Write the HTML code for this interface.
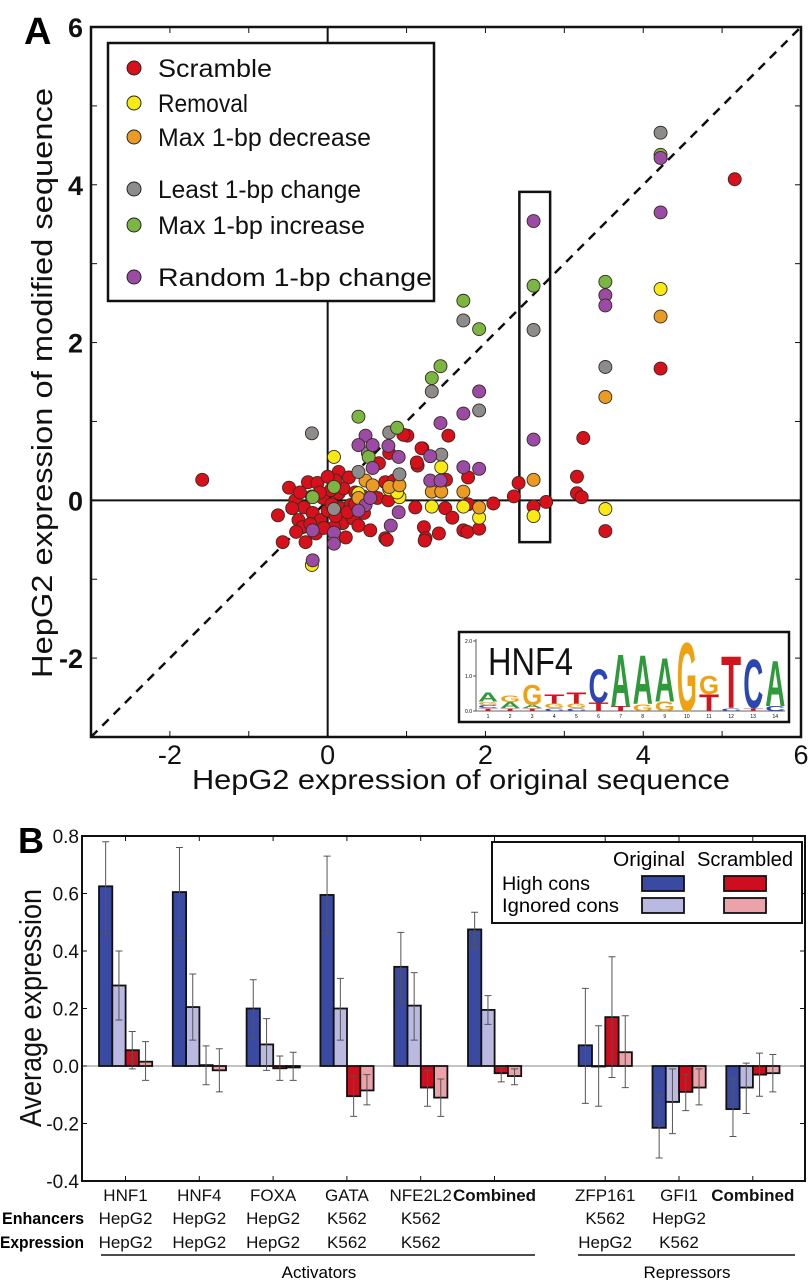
<!DOCTYPE html>
<html><head><meta charset="utf-8">
<style>
html,body{margin:0;padding:0;background:#fff;}
svg{display:block;font-family:"Liberation Sans",sans-serif;}
</style></head>
<body>
<svg id="fig" width="810" height="1280" viewBox="0 0 810 1280" xmlns="http://www.w3.org/2000/svg">
<g id="panelA"></g>
<g id="panelB"></g>
</svg>
<script>
// ---------------- Panel A data ----------------
const redPts = [[-0.49,0.16],[-0.63,-0.19],[-0.57,-0.53],[-0.41,0.0],[-0.37,-0.25],[-0.25,0.23],[-0.30,-0.09],[-0.32,-0.34],[-0.28,-0.53],[-0.13,0.22],[-0.06,0.03],[-0.19,-0.16],[-0.15,-0.42],[-0.09,-0.25],[0.0,-0.13],[0.14,0.36],[0.14,0.09],[0.16,-0.10],[0.19,-0.29],[0.27,0.29],[0.29,-0.06],[0.32,-0.23],[0.39,-0.32],[0.46,-0.16],[0.54,-0.38],[0.63,0.03],[0.65,0.47],[0.73,0.23],[0.84,0.25],[0.77,0.0],[1.14,0.44],[1.20,0.66],[1.01,0.82],[1.53,0.82],[1.11,-0.09],[1.22,-0.34],[1.24,-0.48],[0.73,-0.48],[1.41,-0.42],[1.49,-0.10],[1.58,-0.22],[1.72,-0.38],[0.04,0.13],[0.08,-0.34],[0.23,-0.47],[-1.59,0.26],[3.24,0.79],[2.42,0.22],[3.16,0.30],[3.16,0.09],[3.22,0.04],[2.77,-0.02],[2.61,-0.08],[2.36,0.05],[3.52,-0.39],[2.10,-0.04],[1.77,-0.40],[1.92,-0.36],[1.23,-0.51],[0.75,-0.50],[0.96,0.83],[1.19,0.66],[0.78,0.60],[1.13,0.48],[1.50,0.26],[1.78,0.29],[1.78,-0.05],[5.16,4.07],[4.22,1.67],[-0.45,-0.10],[-0.10,0.10],[0.05,-0.05],[0.20,0.15],[-0.20,0.05],[0.10,0.25],[0.35,0.10],[-0.35,0.10],[0.25,-0.15],[-0.05,-0.35],[0.45,0.05],[-0.22,-0.30],[0.00,0.30],[0.10,-0.20],[-0.40,-0.40],[0.35,-0.05]];
const yellowPts = [[4.22,2.68],[3.52,-0.11],[2.61,-0.20],[0.08,0.55],[0.39,0.09],[0.91,0.04],[1.44,0.42],[1.32,-0.08],[1.72,-0.08],[1.92,-0.22],[0.78,0.14],[0.88,0.10],[-0.20,-0.82]];
const orangePts = [[4.22,2.33],[3.52,1.31],[2.61,0.26],[0.48,0.25],[0.57,0.19],[0.39,0.03],[0.78,0.17],[0.91,0.19],[1.32,0.11],[1.44,0.11],[1.72,0.11],[1.92,-0.09]];
const grayPts = [[4.22,4.66],[2.61,2.16],[1.72,2.28],[3.52,1.69],[1.32,1.38],[1.92,1.14],[-0.20,0.85],[0.78,0.86],[1.44,0.58],[0.91,0.33],[0.39,0.36],[0.51,0.60],[0.08,-0.11]];
const greenPts = [[4.22,4.38],[2.61,2.72],[3.52,2.77],[1.72,2.53],[1.92,2.17],[1.43,1.70],[1.32,1.55],[0.39,1.06],[0.88,0.92],[0.52,0.55],[0.08,0.17],[-0.19,0.04]];
const purplePts = [[4.22,4.34],[2.61,3.54],[4.22,3.65],[3.52,2.60],[3.52,2.47],[1.92,1.38],[1.72,1.10],[1.43,0.98],[2.61,0.77],[0.48,0.82],[0.39,0.70],[0.57,0.70],[0.77,0.69],[0.90,0.55],[0.57,0.41],[1.30,0.56],[1.72,0.42],[1.92,0.40],[1.30,0.25],[1.43,0.25],[0.48,-0.06],[0.39,-0.13],[0.54,0.03],[0.90,-0.15],[0.80,-0.32],[-0.19,-0.38],[0.08,-0.41],[0.08,-0.55],[-0.19,-0.76]];
const xTicksA = [-2,0,2,4,6];
const yTicksA = [-2,0,2,4,6];
const legendA = ["Scramble","Removal","Max 1-bp decrease","Least 1-bp change","Max 1-bp increase","Random 1-bp change"];
const colorsA = ["#d7101c","#f8ea12","#e99b22","#8c8c8c","#7bb542","#9b4ba6"];

// ---------------- Panel B data ----------------
const catsB = ["HNF1","HNF4","FOXA","GATA","NFE2L2","Combined","ZFP161","GFI1","Combined"];
const enhB = ["HepG2","HepG2","HepG2","K562","K562","","K562","HepG2",""];
const exprB = ["HepG2","HepG2","HepG2","K562","K562","","HepG2","K562",""];
const groupB = ["Activators","Activators","Activators","Activators","Activators","Activators","Repressors","Repressors","Repressors"];
const origHigh = [0.625,0.605,0.20,0.595,0.345,0.475,0.072,-0.215,-0.15];
const origIgn  = [0.28,0.205,0.075,0.20,0.21,0.195,0.0,-0.125,-0.075];
const scrHigh  = [0.055,0.003,-0.008,-0.105,-0.075,-0.025,0.17,-0.09,-0.03];
const scrIgn   = [0.015,-0.015,-0.005,-0.085,-0.11,-0.035,0.048,-0.075,-0.025];
const errHiOH = [0.78,0.76,0.30,0.73,0.465,0.535,0.27,-0.10,-0.045];
const errLoOH = [0.46,0.445,0.095,0.46,0.22,0.41,-0.13,-0.32,-0.245];
const errHiOI = [0.40,0.32,0.165,0.305,0.325,0.245,0.14,-0.01,0.01];
const errLoOI = [0.16,0.09,-0.015,0.09,0.09,0.145,-0.14,-0.235,-0.165];
const errHiSH = [0.12,0.07,0.035,-0.035,-0.015,-0.005,0.38,-0.03,0.045];
const errLoSH = [-0.01,-0.065,-0.05,-0.175,-0.14,-0.055,-0.04,-0.155,-0.105];
const errHiSI = [0.085,0.06,0.048,-0.03,-0.045,-0.01,0.175,-0.01,0.04];
const errLoSI = [-0.05,-0.09,-0.05,-0.135,-0.175,-0.065,-0.075,-0.135,-0.09];
const yTicksB = [0.8,0.6,0.4,0.2,0.0,-0.2,-0.4];
const seriesNamesB = ["original-high-cons","original-ignored-cons","scrambled-high-cons","scrambled-ignored-cons"];
const colorsB = ["#3a4aa2","#b9b9e2","#cc0e1e","#eba2a8"];

// HNF4 logo stacks (letter, information in bits) bottom→top
const logoStacks = [
 [["T",0.08],["C",0.1],["G",0.1],["A",0.27]],
 [["T",0.08],["A",0.18],["G",0.2]],
 [["T",0.08],["A",0.1],["G",0.6]],
 [["C",0.08],["G",0.14],["T",0.27]],
 [["C",0.08],["G",0.14],["T",0.33]],
 [["T",0.25],["C",1.0]],
 [["T",0.15],["A",1.55]],
 [["G",0.2],["A",1.45]],
 [["G",0.28],["A",1.3]],
 [["G",2.05]],
 [["T",0.5],["G",0.55]],
 [["C",0.08],["T",1.55]],
 [["T",0.08],["C",1.45]],
 [["C",0.15],["A",1.35]]
];
const logoColors = {A:"#2e9a3a",C:"#2b45b3",G:"#f0a112",T:"#d2141c"};

const NS="http://www.w3.org/2000/svg";
function mk(tag, attrs, parent){const e=document.createElementNS(NS,tag);for(const k in attrs)e.setAttribute(k,attrs[k]);parent.appendChild(e);return e;}

// ===== Panel A =====
const A=document.getElementById('panelA');
const ax0=91, ax1=801, ay0=27, ay1=737;
const xA=v=>ax0+(v+3)/9*(ax1-ax0);
const yA=v=>ay1-(v+3)/9*(ay1-ay0);
let t=mk('text',{x:24,y:44,'font-size':38,'font-weight':'bold'},A);t.textContent="A";


let l=mk('line',{x1:xA(0),y1:ay0,x2:xA(0),y2:ay1,stroke:'#111','stroke-width':2},A);


l=mk('line',{x1:ax0,y1:yA(0),x2:ax1,y2:yA(0),stroke:'#111','stroke-width':2},A);


l=mk('line',{x1:xA(-3),y1:yA(-3),x2:xA(6),y2:yA(6),stroke:'#111','stroke-width':2.5,'stroke-dasharray':'9,7'},A);


for(let v=-2;v<=5;v++){
  mk('line',{x1:xA(v),y1:ay1,x2:xA(v),y2:ay1-6,stroke:'#111','stroke-width':1},A);
  mk('line',{x1:xA(v),y1:ay0,x2:xA(v),y2:ay0+6,stroke:'#111','stroke-width':1},A);
  mk('line',{x1:ax0,y1:yA(v),x2:ax0+6,y2:yA(v),stroke:'#111','stroke-width':1},A);
  mk('line',{x1:ax1,y1:yA(v),x2:ax1-6,y2:yA(v),stroke:'#111','stroke-width':1},A);
}
let r=mk('rect',{x:xA(2.43),y:yA(3.91),width:xA(2.82)-xA(2.43),height:yA(-0.53)-yA(3.91),fill:'none',stroke:'#111','stroke-width':2.5},A);


const sets=[redPts,yellowPts,orangePts,grayPts,greenPts,purplePts];
const setNames=["scramble","removal","max-decrease","least-change","max-increase","random-change"];
sets.forEach((pts,si)=>{
  const g=mk('g',{},A);
  
  
  pts.forEach(p=>{
    const c=mk('circle',{cx:xA(p[0]),cy:yA(p[1]),r:6.5,fill:colorsA[si],stroke:'#3a2a20','stroke-width':0.9},g);
    
    
  });
});
r=mk('rect',{x:ax0,y:ay0,width:ax1-ax0,height:ay1-ay0,fill:'none',stroke:'#111','stroke-width':2.5},A);


xTicksA.forEach(v=>{const e=mk('text',{x:xA(v),y:764,'font-size':27,'text-anchor':'middle',fill:'#111'},A);e.textContent=String(v);
 
 });
yTicksA.forEach(v=>{const e=mk('text',{x:83,y:yA(v)+10,'font-size':27,'font-weight':'bold','text-anchor':'end',fill:'#111'},A);e.textContent=String(v);
 
 });
t=mk('text',{x:461,y:789,'font-size':28,'text-anchor':'middle',textLength:538,lengthAdjust:'spacingAndGlyphs',fill:'#111'},A);
t.textContent="HepG2 expression of original sequence";


t=mk('text',{x:0,y:0,'font-size':29,'text-anchor':'middle',textLength:590,lengthAdjust:'spacingAndGlyphs',fill:'#111',transform:'translate(52,383) rotate(-90)'},A);
t.textContent="HepG2 expression of modified sequence";


const LG=mk('g',{},A);


mk('rect',{x:108,y:43,width:326,height:258,fill:'#fff',stroke:'#111','stroke-width':2.5},LG);
const legY=[68,103,137,189,225,277];
const legW=[114,90,213,203,207,274];
legendA.forEach((s,i)=>{
  const g=mk('g',{},LG);
  
  
  mk('circle',{cx:134,cy:legY[i],r:7,fill:colorsA[i],stroke:'#222','stroke-width':1},g);
  const e=mk('text',{x:158,y:legY[i]+9,'font-size':25,textLength:legW[i],lengthAdjust:'spacingAndGlyphs',fill:'#111'},g);
  e.textContent=s;
});
const IN=mk('g',{},A);


mk('rect',{x:459,y:632,width:330,height:90,fill:'#fff',stroke:'#111','stroke-width':2.5},IN);
mk('line',{x1:476,y1:639,x2:476,y2:711,stroke:'#333','stroke-width':0.8},IN);
mk('line',{x1:476,y1:711,x2:785,y2:711,stroke:'#333','stroke-width':0.8},IN);
[["2.0",641],["1.0",676],["0.0",711]].forEach(a=>{mk('line',{x1:473,y1:a[1],x2:476,y2:a[1],stroke:'#333','stroke-width':0.8},IN);const e=mk('text',{x:472,y:a[1]+2,'font-size':5,'text-anchor':'end'},IN);e.textContent=a[0];});
t=mk('text',{x:488,y:675,'font-size':39,textLength:85,lengthAdjust:'spacingAndGlyphs',fill:'#111'},IN);
t.textContent="HNF4";


const bitPx=34.5;
logoStacks.forEach((stack,i)=>{
  const cx=488+i*22.1;
  let base=711;
  stack.forEach(([ch,bits])=>{
    const h=bits*bitPx;
    const e=mk('text',{x:0,y:0,'font-size':100,'font-weight':'bold',textLength:100,lengthAdjust:'spacingAndGlyphs',fill:logoColors[ch],transform:`translate(${cx-10},${base}) scale(${20/100},${h/72})`},IN);
    e.textContent=ch;
    base-=h;
  });
  const n=mk('text',{x:cx,y:718,'font-size':5,'text-anchor':'middle'},IN);n.textContent=String(i+1);
});

// ===== Panel B =====
const B=document.getElementById('panelB');
const bx0=82, bx1=805, by0=836, by1=1181;
const yB=v=>by1-(v+0.4)/1.2*(by1-by0);
const slot=73.8, firstC=125.5;
const xC=i=>firstC+slot*(i+(groupB[i]==="Repressors"?0.5:0));
t=mk('text',{x:18,y:853,'font-size':36,'font-weight':'bold'},B);t.textContent="B";


const vals=[origHigh,origIgn,scrHigh,scrIgn];
const eh=[errHiOH,errHiOI,errHiSH,errHiSI], el=[errLoOH,errLoOI,errLoSH,errLoSI];
const bw=13.3;
catsB.forEach((c,i)=>{
  const g=mk('g',{},B);
  
  
  vals.forEach((arr,s)=>{
    const x=xC(i)-26.5+s*bw, v=arr[i];
    const y=Math.min(yB(v),yB(0)), h=Math.abs(yB(v)-yB(0));
    const b=mk('rect',{x:x,y:y,width:bw,height:Math.max(h,0.5),fill:colorsB[s],stroke:'#111','stroke-width':1.8},g);
    
    
  });
  vals.forEach((arr,s)=>{
    const xm=xC(i)-26.5+s*bw+bw/2;
    const e=mk('path',{d:`M${xm},${yB(eh[s][i])}V${yB(el[s][i])}M${xm-3.5},${yB(eh[s][i])}h7M${xm-3.5},${yB(el[s][i])}h7`,stroke:'#555','stroke-width':1,fill:'none'},g);
    
    
  });
  mk('line',{x1:xC(i),y1:by1,x2:xC(i),y2:by1-5,stroke:'#111'},B);
  mk('line',{x1:xC(i),y1:by0,x2:xC(i),y2:by0+5,stroke:'#111'},B);
  const bold=c==="Combined";
  let e=mk('text',{x:xC(i),y:1201,'font-size':17,'font-weight':bold?'bold':'normal','text-anchor':'middle',fill:'#111'},B);e.textContent=c;
  
  
  e=mk('text',{x:xC(i),y:1224,'font-size':17,'text-anchor':'middle',fill:'#111'},B);e.textContent=enhB[i];
  
  
  e=mk('text',{x:xC(i),y:1248,'font-size':17,'text-anchor':'middle',fill:'#111'},B);e.textContent=exprB[i];
  
  
});
yTicksB.forEach(v=>{
  mk('line',{x1:bx0,y1:yB(v),x2:bx0+5,y2:yB(v),stroke:'#111'},B);
  mk('line',{x1:bx1,y1:yB(v),x2:bx1-5,y2:yB(v),stroke:'#111'},B);
  const e=mk('text',{x:79,y:yB(v)+7,'font-size':19,'text-anchor':'end',fill:'#111'},B);e.textContent=v.toFixed(1);
  
  
});
mk('line',{x1:bx0,y1:yB(0),x2:bx1,y2:yB(0),stroke:'#111','stroke-width':0.6},B);
r=mk('rect',{x:bx0,y:by0,width:bx1-bx0,height:by1-by0,fill:'none',stroke:'#111','stroke-width':2},B);


t=mk('text',{x:0,y:0,'font-size':31,'text-anchor':'middle',textLength:238,lengthAdjust:'spacingAndGlyphs',fill:'#111',transform:'translate(41,1008) rotate(-90)'},B);
t.textContent="Average expression";


t=mk('text',{x:84,y:1224,'font-size':17,'font-weight':'bold','text-anchor':'end',textLength:82,lengthAdjust:'spacingAndGlyphs'},B);t.textContent="Enhancers";


t=mk('text',{x:84,y:1248,'font-size':17,'font-weight':'bold','text-anchor':'end',textLength:84,lengthAdjust:'spacingAndGlyphs'},B);t.textContent="Expression";


mk('line',{x1:101,y1:1255,x2:535,y2:1255,stroke:'#111','stroke-width':1.5},B);
mk('line',{x1:578,y1:1255,x2:795,y2:1255,stroke:'#111','stroke-width':1.5},B);
t=mk('text',{x:319,y:1278,'font-size':17,'text-anchor':'middle'},B);t.textContent="Activators";


t=mk('text',{x:687,y:1278,'font-size':17,'text-anchor':'middle'},B);t.textContent="Repressors";


const LB=mk('g',{},B);


mk('rect',{x:492,y:842,width:310,height:81,fill:'#fff',stroke:'#111','stroke-width':2},LB);
[["Original",649,72],["Scrambled",745,96]].forEach(a=>{const e=mk('text',{x:a[1],y:866,'font-size':20,'text-anchor':'middle',textLength:a[2],lengthAdjust:'spacingAndGlyphs'},LB);e.textContent=a[0];});
[["High cons",890,88],["Ignored cons",912,117]].forEach(a=>{const e=mk('text',{x:502,y:a[1],'font-size':19,textLength:a[2],lengthAdjust:'spacingAndGlyphs'},LB);e.textContent=a[0];});
[[642,876,0],[642,898,1],[724,876,2],[724,898,3]].forEach(a=>{
  const s=mk('rect',{x:a[0],y:a[1],width:42,height:15,fill:colorsB[a[2]],stroke:'#111','stroke-width':1.8},LB);
  
  
});
</script>
</body></html>
